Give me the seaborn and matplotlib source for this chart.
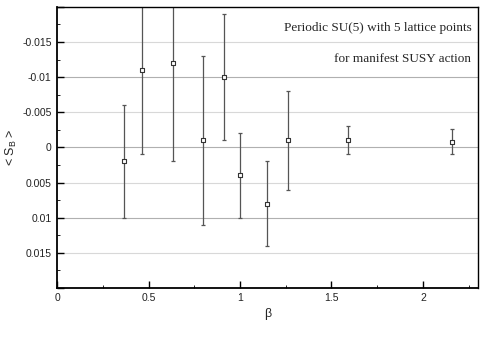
import matplotlib
matplotlib.use("Agg")
import matplotlib.pyplot as plt
import seaborn as sns
import numpy as np
import pandas as pd
from matplotlib.ticker import MultipleLocator, FuncFormatter

# Datos
beta = [0.367, 0.466, 0.632, 0.796, 0.911, 1.002, 1.148, 1.263, 1.592, 2.158]
sb = [0.002, -0.011, -0.012, -0.001, -0.010, 0.004, 0.008, -0.001, -0.001, -0.0008]
err = [0.008, 0.012, 0.014, 0.012, 0.009, 0.006, 0.006, 0.007, 0.002, 0.0018]

df = pd.DataFrame({'beta': beta, 'sb': sb, 'err': err})

sns.set_theme(style="white")
plt.rcParams['font.family'] = ['Liberation Sans', 'DejaVu Sans']

fig, ax = plt.subplots(figsize=(4.85, 3.46), dpi=100)
fig.subplots_adjust(left=0.118, right=0.985, top=0.98, bottom=0.168)

# grilla horizontal
for yv in np.arange(-0.015, 0.0151, 0.005):
    c = '#b0b0b0' if abs(round(yv, 4)) in (0.01,) or abs(yv) < 1e-9 else '#d8d8d8'
    ax.axhline(yv, color=c, lw=0.8, zorder=0)

ax.errorbar(df['beta'], df['sb'], yerr=df['err'], fmt='none', ecolor='#555555',
            elinewidth=0.9, capsize=1.5, capthick=0.9, zorder=2)
sns.scatterplot(data=df, x='beta', y='sb', marker='s', s=9, facecolor='white',
                edgecolor='#333333', linewidth=0.8, ax=ax, zorder=3)

ax.set_xlim(0, 2.3)
ax.set_ylim(0.02, -0.02)

ax.xaxis.set_major_locator(MultipleLocator(0.5))
ax.xaxis.set_minor_locator(MultipleLocator(0.25))
ax.yaxis.set_major_locator(MultipleLocator(0.005))
ax.yaxis.set_minor_locator(MultipleLocator(0.0025))

def fmt_x(v, pos):
    return '%g' % round(v, 2)

def fmt_y(v, pos):
    v = round(v, 4)
    if v == 0:
        return '0'
    if abs(v) >= 0.02:
        return ''
    return '%g' % v
ax.xaxis.set_major_formatter(FuncFormatter(fmt_x))
ax.yaxis.set_major_formatter(FuncFormatter(fmt_y))

ax.tick_params(which='both', direction='in', bottom=True, left=True, top=False, right=False,
               color='black', labelsize=7.5, labelcolor='#222222', pad=4)
ax.tick_params(which='major', length=5, width=1.0)
ax.tick_params(which='minor', length=2.5, width=0.6)

for s in ax.spines.values():
    s.set_color('black')
    s.set_linewidth(1.0)
ax.spines['bottom'].set_linewidth(1.3)
ax.spines['left'].set_linewidth(1.3)

ax.set_xlabel('β', fontsize=9, labelpad=3)
ax.set_ylabel(r'< S$_\mathregular{B}$ >', fontsize=9, labelpad=2)

ax.text(0.985, 0.925, 'Periodic SU(5) with 5 lattice points', transform=ax.transAxes,
        ha='right', va='center', fontsize=9.5, family=['Liberation Serif', 'DejaVu Serif'])
ax.text(0.985, 0.815, 'for manifest SUSY action', transform=ax.transAxes,
        ha='right', va='center', fontsize=9.5, family=['Liberation Serif', 'DejaVu Serif'])

plt.savefig('out.png', dpi=100)
